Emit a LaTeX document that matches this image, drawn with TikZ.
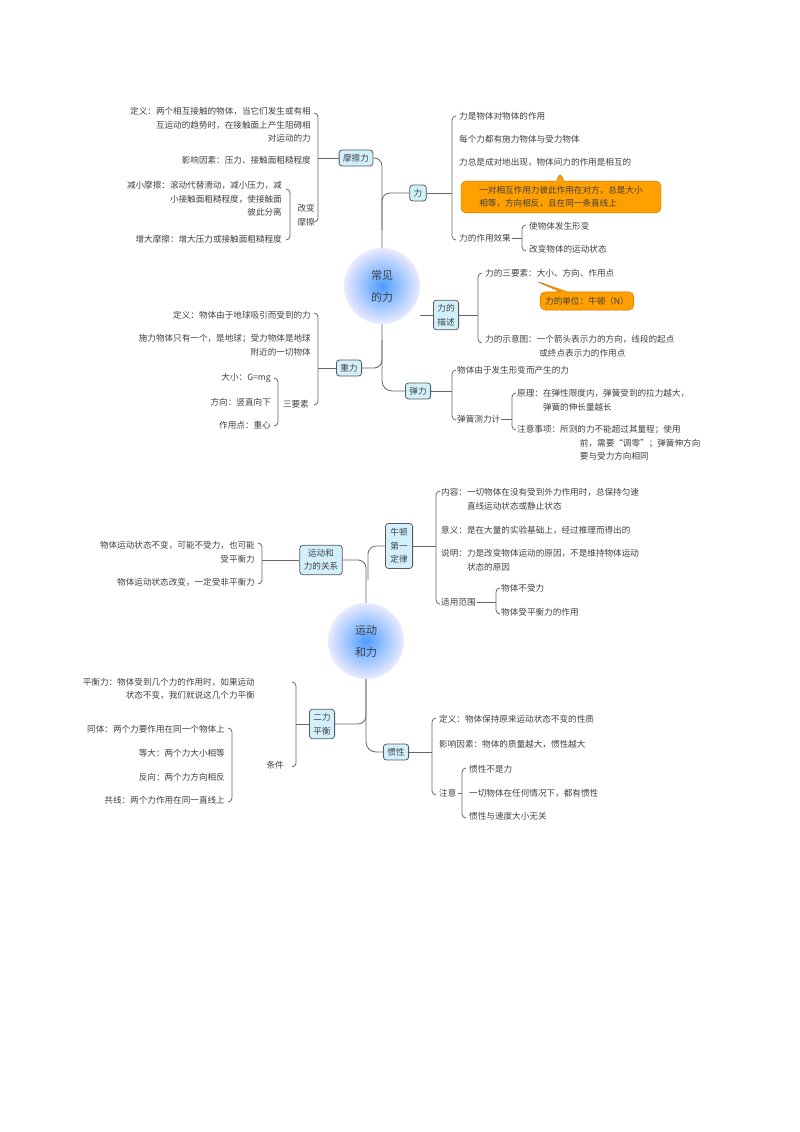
\documentclass[tikz,border=0pt]{standalone}
\usepackage{fontspec}
\setmainfont{Noto Sans CJK SC}
\usetikzlibrary{shapes.callouts}
\tikzset{
    every node/.style={font=\fontsize{8.6}{13.5}\selectfont, text=black!75, inner sep=1pt}, % plain text
    box/.style={draw=black!65, thick, fill=cyan!18, rounded corners=3pt, inner sep=4pt, align=center}, % branch boxes
    hub/.style={circle, minimum size=76pt, inner color=blue!55!cyan!70, outer color=blue!8, align=center, font=\fontsize{11}{22}\selectfont}, % centre topics
    tip/.style={rectangle callout, fill=orange!75!yellow, draw=orange!80!black, rounded corners=5pt, align=left, inner sep=5pt}, % yellow notes
    ltx/.style={anchor=east, align=right}, % text left of a brace
    rtx/.style={anchor=west, align=left}, % text right of a brace
    line/.style={draw=black!60, thick},
}
% brace opening to the right / to the left
\newcommand{\bkR}[3]{\draw[line] (#1+4,#2) to[out=180,in=90] (#1,#2+4) -- (#1,#3-4) to[out=-90,in=180] (#1+4,#3);}
\newcommand{\bkL}[3]{\draw[line] (#1-4,#2) to[out=0,in=90] (#1,#2+4) -- (#1,#3-4) to[out=-90,in=0] (#1-4,#3);}
\begin{document}
\begin{tikzpicture}[x=1pt,y=-1pt]
\useasboundingbox (0,0) rectangle (800,1132);

% ---- common forces
\node[hub] (cjl) at (382,286) {常见\\的力};
\node[box] (mcl) at (356,158) {摩擦力};
\node[box] (li) at (418,193) {力};
\node[box] (lms) at (446,315) {力的\\描述};
\node[box] (zl) at (349,368) {重力};
\node[box] (tl) at (418,391) {弹力};
\draw[line, rounded corners=8] (mcl.east) -| (cjl.north);
\draw[line, rounded corners=8] (li.west) -| (382,230);
\draw[line] (lms.west) -- (cjl.east |- lms.west);
\draw[line, rounded corners=10] (cjl.south) |- (tl.west);
\draw[line, rounded corners=8] (zl.east) -| (382,340);

% friction
\node[ltx] (mc1) at (312,125) {定义：两个相互接触的物体，当它们发生或有相\\互运动的趋势时，在接触面上产生阻碍相\\对运动的力};
\node[ltx] (mc2) at (312,160) {影响因素：压力、接触面粗糙程度};
\node[ltx] (mc3) at (283,199) {减小摩擦：滚动代替滑动，减小压力，减\\小接触面粗糙程度，使接触面\\彼此分离};
\node[ltx] (mc4) at (283,239) {增大摩擦：增大压力或接触面粗糙程度};
\node[ltx] (gbmc) at (316,215) {改变\\摩擦};
\bkL{318}{113}{222}
\bkL{290}{189}{240}
\draw[line] (318,158) -- (mcl.west);

% force
\node[rtx] (l1) at (458,116) {力是物体对物体的作用};
\node[rtx] (l2) at (458,139) {每个力都有施力物体与受力物体};
\node[rtx] (l3) at (458,162) {力总是成对地出现，物体间力的作用是相互的};
\node[tip, callout absolute pointer={(560,172)}, minimum width=200pt] (l4) at (561,197) {一对相互作用力彼此作用在对方，总是大小\\相等，方向相反，且在同一条直线上};
\node[rtx] (l5) at (458,238) {力的作用效果};
\node[rtx] (l51) at (528,226) {使物体发生形变};
\node[rtx] (l52) at (528,249) {改变物体的运动状态};
\bkR{452}{116}{240}
\bkR{522}{225}{251}
\draw[line] (li.east) -- (452,193);
\draw[line] (l5.east) -- (522,238);

% force description
\node[rtx] (ms1) at (484,273) {力的三要素：大小、方向、作用点};
\node[tip, callout absolute pointer={(536,281)}] (ms2) at (587,301) {力的单位：牛顿（N）};
\node[rtx] (ms3) at (484,346) {力的示意图：一个箭头表示力的方向，线段的起点\\\hspace*{6.3em}或终点表示力的作用点};
\bkR{478}{273}{343}
\draw[line] (lms.east) -- (478,315);

% gravity
\node[ltx] (zl1) at (312,315) {定义：物体由于地球吸引而受到的力};
\node[ltx] (zl2) at (312,345) {施力物体只有一个，是地球；受力物体是地球\\附近的一切物体};
\node[ltx] (zl3) at (272,378) {大小：G=mg};
\node[ltx] (zl4) at (272,402) {方向：竖直向下};
\node[ltx] (zl5) at (272,425) {作用点：重心};
\node[ltx] (syd) at (310,404) {三要素};
\bkL{318}{313}{405}
\bkL{278}{378}{426}
\draw[line] (318,368) -- (zl.west);

% elastic force
\node[rtx] (tl1) at (456,370) {物体由于发生形变而产生的力};
\node[rtx] (tl2) at (456,419) {弹簧测力计};
\node[rtx] (tl3) at (516,400) {原理：在弹性限度内，弹簧受到的拉力越大，\\\hspace*{3em}弹簧的伸长量越长};
\node[rtx] (tl4) at (516,443) {注意事项：所测的力不能超过其量程；使用\\\hspace*{7.3em}前，需要“调零”；弹簧伸方向\\\hspace*{7.3em}要与受力方向相同};
\bkR{452}{370}{420}
\bkR{512}{393}{430}
\draw[line] (tl.east) -- (452,391);
\draw[line] (tl2.east) -- (512,419);

% ---- motion and force
\node[hub] (ydl) at (366,641) {运动\\和力};
\node[box] (gx) at (321,560) {运动和\\力的关系};
\node[box, inner sep=5pt] (nd) at (399,546) {牛顿\\第一\\定律};
\node[box] (elph) at (322,724) {二力\\平衡};
\node[box] (gxing) at (396,752) {惯性};
\draw[line, rounded corners=8] (gx.east) -| (ydl.north);
\draw[line, rounded corners=8] (nd.west) -| (368,580);
\draw[line, rounded corners=8] (elph.east) -| (ydl.south);
\draw[line, rounded corners=10] (ydl.south) |- (gxing.west);

\node[ltx] (gx1) at (256,552) {物体运动状态不变，可能不受力，也可能\\受平衡力};
\node[ltx] (gx2) at (256,582) {物体运动状态改变，一定受非平衡力};
\bkL{262}{543}{584}
\draw[line] (262,560) -- (gx.west);

\node[rtx] (nd1) at (440,499) {内容：一切物体在没有受到外力作用时，总保持匀速\\\hspace*{3em}直线运动状态或静止状态};
\node[rtx] (nd2) at (440,530) {意义：是在大量的实验基础上，经过推理而得出的};
\node[rtx] (nd3) at (440,560) {说明：力是改变物体运动的原因，不是维持物体运动\\\hspace*{3em}状态的原因};
\node[rtx] (nd4) at (440,602) {适用范围};
\node[rtx] (nd41) at (500,588) {物体不受力};
\node[rtx] (nd42) at (500,612) {物体受平衡力的作用};
\bkR{436}{491}{604}
\bkR{496}{588}{614}
\draw[line] (nd.east) -- (436,546);
\draw[line] (nd4.east) -- (496,602);

\node[ltx] (ph1) at (256,689) {平衡力：物体受到几个力的作用时，如果运动\\状态不变，我们就说这几个力平衡};
\node[ltx] (ph2) at (226,729) {同体：两个力要作用在同一个物体上};
\node[ltx] (ph3) at (226,753) {等大：两个力大小相等};
\node[ltx] (ph4) at (226,777) {反向：两个力方向相反};
\node[ltx] (ph5) at (226,800) {共线：两个力作用在同一直线上};
\node[ltx] (tj) at (285,765) {条件};
\bkL{296}{682}{767}
\bkL{232}{728}{802}
\draw[line] (296,724) -- (elph.west);

\node[rtx] (gxg1) at (438,719) {定义：物体保持原来运动状态不变的性质};
\node[rtx] (gxg2) at (438,744) {影响因素：物体的质量越大，惯性越大};
\node[rtx] (gxg3) at (438,793) {注意};
\node[rtx] (gxg31) at (468,769) {惯性不是力};
\node[rtx] (gxg32) at (468,793) {一切物体在任何情况下，都有惯性};
\node[rtx] (gxg33) at (468,816) {惯性与速度大小无关};
\bkR{432}{718}{795}
\bkR{462}{768}{818}
\draw[line] (gxing.east) -- (432,752);
\draw[line] (gxg3.east) -- (462,793);
\end{tikzpicture}
\end{document}
